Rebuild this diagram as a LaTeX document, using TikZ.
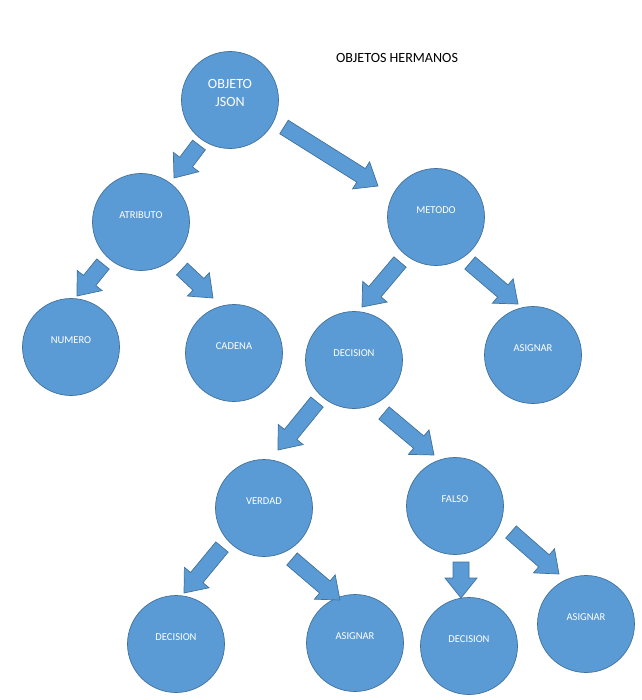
\documentclass[tikz,border=0pt]{standalone}
\usepackage{fontspec}
\setmainfont{Carlito}
\usetikzlibrary{calc}

\definecolor{boxblue}{HTML}{5B9BD5}
\definecolor{edgeblue}{HTML}{41719C}

% block arrow: tail point, tip point
\def\shw{0.24cm}
\def\hdw{0.48cm}
\def\hlen{0.6cm}
\newcommand{\blkarrow}[2]{%
  \coordinate (ta) at (#1);
  \coordinate (tb) at (#2);
  \coordinate (hb) at ($(tb)!\hlen!(ta)$);
  \draw[blk] ($(ta)!\shw!90:(tb)$) -- ($(hb)!\shw!-90:(ta)$) -- ($(hb)!\hdw!-90:(ta)$)
    -- (tb) -- ($(hb)!\hdw!90:(ta)$) -- ($(hb)!\shw!90:(ta)$) -- ($(ta)!\shw!-90:(tb)$) -- cycle;}

\begin{document}
\begin{tikzpicture}[
    x=0.03cm, y=-0.03cm,
    bubble/.style={circle, fill=boxblue, draw=edgeblue, line width=0.6pt, minimum size=2.91cm, inner sep=0pt},
    lbl/.style={text=white, font=\fontsize{9}{11}\selectfont, yshift=0.21cm, inner sep=0pt},
    blk/.style={fill=boxblue, draw=edgeblue, line width=0.6pt, line join=miter},
    ttl/.style={font=\fontsize{12}{14}\selectfont, text=black},
]
\useasboundingbox (0,0) rectangle (641,700);

\node[ttl] (title) at (397,58) {OBJETOS HERMANOS};

\node[bubble, label={[lbl, align=center, font=\fontsize{12}{15}\selectfont]center:OBJETO\\JSON}] (json) at (230,100) {};
\node[bubble, label={[lbl]center:ATRIBUTO}] (atr)  at (141,222) {};
\node[bubble, label={[lbl]center:METODO}]   (met)  at (436,217) {};
\node[bubble, label={[lbl]center:NUMERO}]   (num)  at (71,347)  {};
\node[bubble, label={[lbl]center:CADENA}]   (cad)  at (234,353) {};
\node[bubble, label={[lbl]center:DECISION}] (dec)  at (354,360) {};
\node[bubble, label={[lbl]center:ASIGNAR}]  (asg)  at (533,355) {};
\node[bubble, label={[lbl]center:VERDAD}]   (ver)  at (264,508) {};
\node[bubble, label={[lbl]center:FALSO}]    (fal)  at (455,506) {};
\node[bubble, label={[lbl]center:DECISION}] (decv) at (176,644) {};
\node[bubble, label={[lbl]center:ASIGNAR}]  (asgv) at (355,643) {};
\node[bubble, label={[lbl]center:DECISION}] (decf) at (469,646) {};
\node[bubble, label={[lbl]center:ASIGNAR}]  (asgf) at (586,624) {};

% arrows between the circles
\blkarrow{$(json)+(-31,45)$}{$(atr)+(33,-44)$}
\blkarrow{$(json)+(54,27)$}{$(met)+(-58,-31)$}
\blkarrow{$(atr)+(-38,42)$}{$(num)+(6,-51)$}
\blkarrow{$(atr)+(41,47)$}{$(cad)+(-21,-55)$}
\blkarrow{$(met)+(-36,45)$}{$(dec)+(8,-53)$}
\blkarrow{$(met)+(34,46)$}{$(asg)+(-15,-51)$}
\blkarrow{$(dec)+(-37,42)$}{$(ver)+(14,-58)$}
\blkarrow{$(dec)+(30,53)$}{$(fal)+(-21,-51)$}
\blkarrow{$(ver)+(-42,39)$}{$(decv)+(8,-51)$}
\blkarrow{$(ver)+(28,51)$}{$(asgv)+(-15,-43)$}
\blkarrow{$(fal)+(6,56)$}{$(decf)+(-8,-48)$}
\blkarrow{$(fal)+(56,26)$}{$(asgf)+(-27,-50)$}

\end{tikzpicture}
\end{document}
